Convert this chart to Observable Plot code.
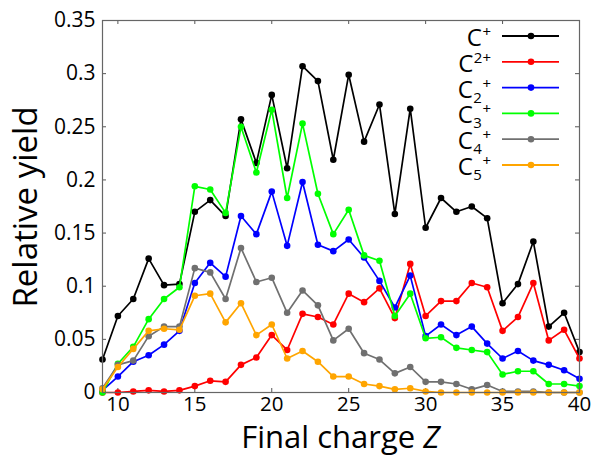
<!DOCTYPE html>
<html>
<head>
<meta charset="utf-8">
<script src="https://cdn.jsdelivr.net/npm/d3@7"></script>
<script src="https://cdn.jsdelivr.net/npm/@observablehq/plot@0.6"></script>
<style>
  html, body { margin: 0; padding: 0; background: #fff; }
  #chart { width: 603px; height: 458px; }
</style>
</head>
<body>
<div id="chart"></div>
<script>
// Final charge Z (x categories)
const zValues = [9,10,11,12,13,14,15,16,17,18,19,20,21,22,23,24,25,26,27,28,29,30,31,32,33,34,35,36,37,38,39,40];

// Relative yields per fragment
const cPlus   = [0.031,0.072,0.088,0.126,0.101,0.102,0.170,0.181,0.166,0.257,0.216,0.280,0.211,0.307,0.293,0.219,0.299,0.236,0.271,0.168,0.267,0.155,0.183,0.170,0.175,0.164,0.084,0.102,0.142,0.062,0.075,0.038];
const c2Plus  = [0.000,0.000,0.001,0.002,0.001,0.002,0.006,0.011,0.010,0.026,0.033,0.054,0.040,0.074,0.071,0.064,0.093,0.085,0.098,0.070,0.121,0.072,0.086,0.086,0.103,0.099,0.058,0.071,0.103,0.049,0.059,0.032];
const c2Mol   = [0.002,0.015,0.029,0.035,0.045,0.058,0.103,0.122,0.109,0.166,0.149,0.189,0.138,0.198,0.139,0.133,0.144,0.127,0.105,0.080,0.110,0.053,0.064,0.054,0.062,0.046,0.032,0.039,0.030,0.026,0.021,0.013];
const c3Mol   = [0.000,0.027,0.043,0.069,0.088,0.099,0.194,0.191,0.169,0.250,0.207,0.266,0.183,0.253,0.187,0.149,0.172,0.129,0.124,0.072,0.093,0.051,0.052,0.042,0.040,0.038,0.017,0.020,0.020,0.008,0.008,0.006];
const c4Mol   = [0.004,0.026,0.030,0.053,0.062,0.062,0.117,0.113,0.088,0.136,0.104,0.108,0.075,0.096,0.082,0.049,0.060,0.037,0.031,0.018,0.024,0.010,0.010,0.008,0.003,0.007,0.001,0.001,0.001,0.000,0.000,0.000];
const c5Mol   = [0.003,0.024,0.041,0.058,0.060,0.059,0.091,0.093,0.066,0.084,0.054,0.064,0.032,0.039,0.029,0.015,0.015,0.008,0.006,0.003,0.004,0.001,0.000,0.000,0.000,0.000,0.000,0.000,0.000,0.000,0.000,0.000];

const seriesKeys   = ["C+", "C2+", "C2 +", "C3 +", "C4 +", "C5 +"];
const seriesValues = [cPlus, c2Plus, c2Mol, c3Mol, c4Mol, c5Mol];
const seriesColors = ["#000000", "#ff0000", "#0000ff", "#00ff00", "#707070", "#ffa500"];
// legend label parts: [main, subscript, superscript]
const legendParts  = [["C", "", "+"], ["C", "", "2+"], ["C", "2", "+"], ["C", "3", "+"], ["C", "4", "+"], ["C", "5", "+"]];

const xTicks = [10, 15, 20, 25, 30, 35, 40];
const yTicks = [0, 0.05, 0.1, 0.15, 0.2, 0.25, 0.3, 0.35];

const rows = [];
seriesKeys.forEach((k, i) => zValues.forEach((z, j) => rows.push({series: k, Z: z, value: seriesValues[i][j]})));

const W = 603, H = 458, mL = 102, mR = 24, mT = 20, mB = 66;
const FONT = "'Open Sans', 'Noto Sans', sans-serif";
const innerW = W - mL - mR, innerH = H - mT - mB;
const tick = 4;

const marks = [];
// inward ticks on all four sides
marks.push(Plot.ruleX(xTicks, {x: d => d, insetTop: innerH - tick, stroke: "#555"}));
marks.push(Plot.ruleX(xTicks, {x: d => d, insetBottom: innerH - tick, stroke: "#555"}));
marks.push(Plot.ruleY(yTicks, {y: d => d, insetRight: innerW - tick, stroke: "#555"}));
marks.push(Plot.ruleY(yTicks, {y: d => d, insetLeft: innerW - tick, stroke: "#555"}));
seriesKeys.forEach((k, i) => {
  const d = rows.filter(r => r.series === k);
  marks.push(Plot.line(d, {x: "Z", y: "value", stroke: seriesColors[i], strokeWidth: 1.7}));
  marks.push(Plot.dot(d, {x: "Z", y: "value", fill: seriesColors[i], r: 3.3}));
});
marks.push(Plot.frame({stroke: "#666", strokeWidth: 1.2}));
marks.push(Plot.axisX({ticks: xTicks, tickSize: 0, tickPadding: 4, tickFormat: d => String(d), label: null, fontSize: 20.5}));
marks.push(Plot.axisY({ticks: yTicks, tickSize: 0, tickPadding: 7, tickFormat: d => String(+d.toFixed(2)), label: null, fontSize: 21}));

const chart = Plot.plot({
  width: W, height: H,
  marginLeft: mL, marginRight: mR, marginTop: mT, marginBottom: mB,
  style: {fontFamily: FONT, color: "#000", background: "#fff", overflow: "visible"},
  x: {domain: [9, 40]},
  y: {domain: [0, 0.35]},
  marks
});
document.getElementById("chart").appendChild(chart);

const svg = d3.select(chart);
// axis titles
const xt = svg.append("text").attr("x", mL + innerW / 2).attr("y", 448)
  .attr("text-anchor", "middle").style("font-family", FONT).style("font-size", "31px").attr("fill", "#000");
xt.append("tspan").text("Final charge ");
xt.append("tspan").attr("font-style", "italic").text("Z");
svg.append("text").attr("transform", "translate(37,207) rotate(-90)")
  .attr("text-anchor", "middle").style("font-family", FONT).style("font-size", "33px").attr("fill", "#000")
  .text("Relative yield");

// legend (inside the frame, top right)
const lg = svg.append("g");
const labelRight = 491;
legendParts.forEach((p, i) => {
  const y = 36 + i * 25.8;
  const txt = (s, x, yy, size, anchor) => lg.append("text").attr("x", x).attr("y", yy)
    .attr("text-anchor", anchor).style("font-family", FONT).style("font-size", size + "px")
    .attr("fill", "#000").text(s);
  const sup = txt(p[2], labelRight, y + 1, 15, "end");
  let left = labelRight - sup.node().getComputedTextLength() - 0.5;
  if (p[1]) {
    const sub = txt(p[1], left, y + 15, 15, "end");
    left -= sub.node().getComputedTextLength() + 0.5;
  }
  txt(p[0], left, y + 10, 24, "end");
  lg.append("line").attr("x1", 502).attr("x2", 559).attr("y1", y).attr("y2", y)
    .attr("stroke", seriesColors[i]).attr("stroke-width", 1.8);
  lg.append("circle").attr("cx", 531).attr("cy", y).attr("r", 3.3).attr("fill", seriesColors[i]);
});
</script>
</body>
</html>
